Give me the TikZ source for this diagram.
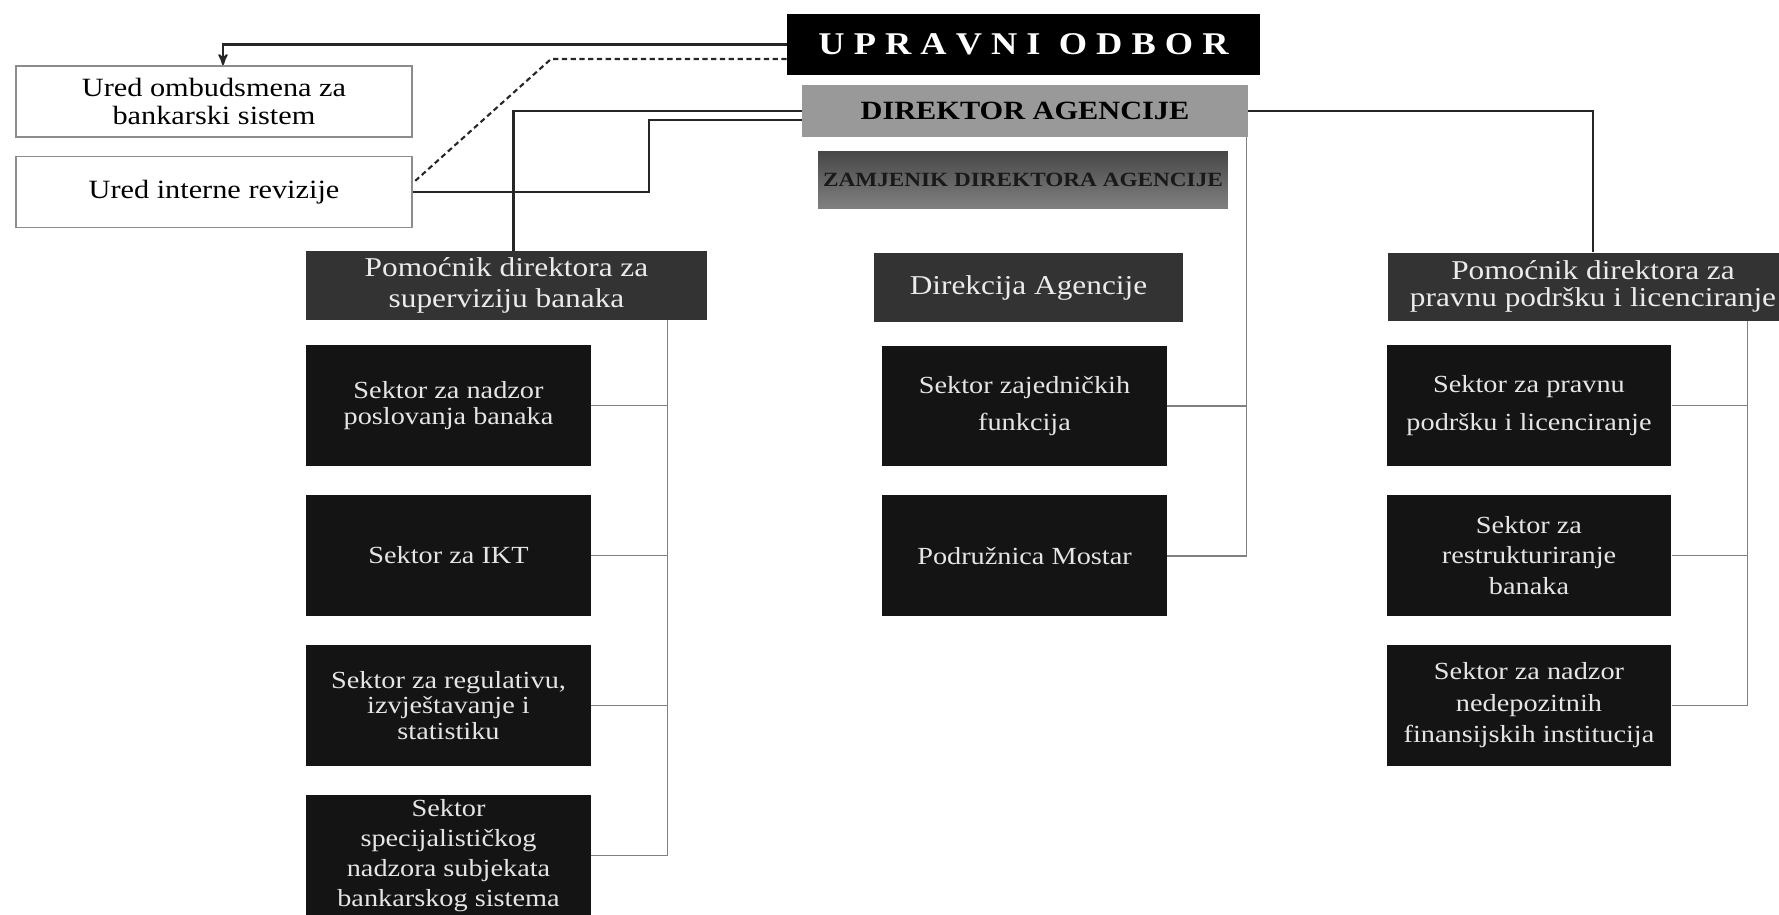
\documentclass[tikz,border=0pt]{standalone}
\usepackage{fontspec}
\setmainfont{Liberation Serif}[FakeStretch=1.15]
\usetikzlibrary{arrows,positioning}

\begin{document}
\begin{tikzpicture}[x=0.02cm,y=-0.02cm,>=stealth',node distance=3cm,
    every node/.style={inner sep=1pt,align=center},
    board/.style={fill=black,text=white,minimum width=9.46cm,minimum height=1.22cm,
                  font=\fontsize{18}{20}\selectfont\bfseries},
    chief/.style={fill=black!40,minimum width=8.92cm,minimum height=1.04cm,
                  font=\fontsize{15}{16}\selectfont\bfseries},
    deputy/.style={top color=black!72,bottom color=black!50,minimum width=8.2cm,
                   minimum height=1.14cm,text=black!90,font=\fontsize{11.5}{12}\selectfont\bfseries},
    office/.style={draw=black!45,line width=1pt,fill=white,minimum width=7.92cm,
                   minimum height=1.42cm,font=\fontsize{15}{16}\selectfont},
    head/.style={fill=black!80,text=black!8,minimum width=8.02cm,minimum height=1.38cm,
                 font=\fontsize{15.5}{18}\selectfont},
    unit/.style={fill=black!92,text=black!10,minimum width=5.7cm,minimum height=2.42cm,
                 font=\fontsize{14}{14.5}\selectfont},
    tie/.style={draw=black!85,line width=1.2pt},
    branch/.style={draw=black!50,line width=0.8pt}]

  \useasboundingbox (0,0) rectangle (1779,914);

  % top of the agency
  \node[board] (uo) at (1023.5,44.5) {U P R A V N I \ O D B O R};
  \node[chief] (da) at (1025,111) {DIREKTOR AGENCIJE};
  \node[deputy] (zam) at (1023,179.5) {ZAMJENIK DIREKTORA AGENCIJE};

  \node[office] (ob) at (214,101.5) {Ured ombudsmena za\\bankarski sistem};
  \node[office] (ir) at (214,192) {Ured interne revizije};

  % assistants and direction
  \node[head] (p1) at (506.5,285.5) {Pomoćnik direktora za\\superviziju banaka};
  \node[head,minimum width=6.18cm] (dir) at (1028.5,287.5) {Direkcija Agencije};
  \node[head,minimum width=8.2cm,minimum height=1.36cm,font=\fontsize{15.5}{15}\selectfont]
       (p3) at (1593,286.5) {Pomoćnik direktora za\\pravnu podršku i licenciranje};

  % sectors
  \node[unit] (s1) at (448.5,405.5) {Sektor za nadzor\\poslovanja banaka};
  \node[unit] (s2) [below of=s1] {Sektor za IKT};
  \node[unit] (s3) [below of=s2] {Sektor za regulativu,\\izvještavanje i\\statistiku};
  \node[unit,font=\fontsize{14}{17}\selectfont] (s4) [below of=s3]
       {Sektor\\specijalističkog\\nadzora subjekata\\bankarskog sistema};

  \node[unit,font=\fontsize{14}{21}\selectfont] (sz) at (1024.5,406) {Sektor zajedničkih\\funkcija};
  \node[unit] (pm) [below of=sz] {Podružnica Mostar};

  \node[unit,font=\fontsize{14}{22}\selectfont] (r1) at (1529,405.5)
       {Sektor za pravnu\\podršku i licenciranje};
  \node[unit,font=\fontsize{14}{17.5}\selectfont] (r2) [below of=r1]
       {Sektor za\\restrukturiranje\\banaka};
  \node[unit,font=\fontsize{14}{18}\selectfont] (r3) [below of=r2]
       {Sektor za nadzor\\nedepozitnih\\finansijskih institucija};

  % board links
  \coordinate (dk) at (551,59);
  \draw[tie,->] (uo.west) -| ([xshift=0.18cm]ob.north);
  \draw[tie,dashed,dash pattern=on 3pt off 2pt] (uo.west |- dk) -- (dk) -- ([yshift=0.18cm]ir.east);

  % director links
  \coordinate (ik) at (649,150);
  \draw[tie] (da.west) -| ([xshift=0.14cm]p1.north);
  \draw[tie] ([yshift=-0.18cm]da.west) -| (ik) |- (ir.east);
  \draw[tie] (da.east) -| (p3.north);

  \coordinate (mv) at ([xshift=-0.04cm]da.south east);
  \draw[branch] (mv) |- (pm.east);
  \draw[branch] (sz.east) -- (sz.east -| mv);

  \coordinate (lv) at ([xshift=-0.8cm]p1.south east);
  \draw[branch] (lv) |- (s4.east);
  \foreach \n in {s1,s2,s3}
    \draw[branch] (\n.east) -- (\n.east -| lv);

  \coordinate (rv) at ([xshift=-1.02cm]p3.south east);
  \draw[branch] (rv) |- (r3.east);
  \foreach \n in {r1,r2}
    \draw[branch] (\n.east) -- (\n.east -| rv);
\end{tikzpicture}
\end{document}
